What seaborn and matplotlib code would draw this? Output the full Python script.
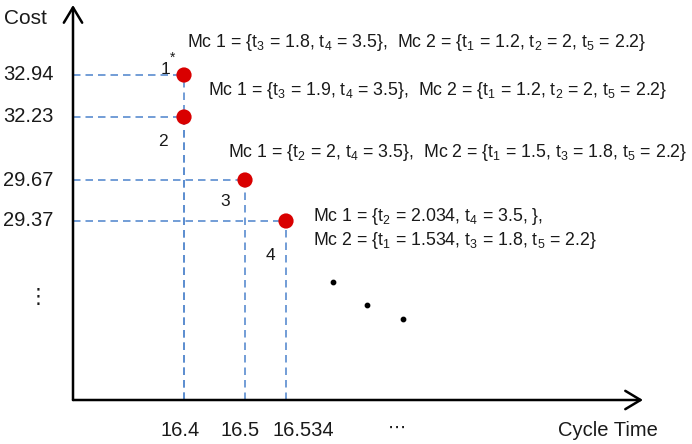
import numpy as np
import pandas as pd
import matplotlib
matplotlib.use("Agg")
import matplotlib.pyplot as plt
import seaborn as sns

# ---------------- data ----------------
cycle_time = [16.4, 16.4, 16.5, 16.534]
cost = [32.94, 32.23, 29.67, 29.37]
solution_labels = ["1", "2", "3", "4"]
x_tick_values = [16.4, 16.5, 16.534]
x_tick_labels = ["16.4", "16.5", "16.534"]
y_tick_values = [32.94, 32.23, 29.67, 29.37]
y_tick_labels = ["32.94", "32.23", "29.67", "29.37"]
assignments = [
    ["Mc 1 = {t$_{3}$ = 1.8, t$_{4}$ = 3.5},  Mc 2 = {t$_{1}$ = 1.2, t$_{2}$ = 2, t$_{5}$ = 2.2}"],
    ["Mc 1 = {t$_{3}$ = 1.9, t$_{4}$ = 3.5},  Mc 2 = {t$_{1}$ = 1.2, t$_{2}$ = 2, t$_{5}$ = 2.2}"],
    ["Mc 1 = {t$_{2}$ = 2, t$_{4}$ = 3.5},  Mc 2 = {t$_{1}$ = 1.5, t$_{3}$ = 1.8, t$_{5}$ = 2.2}"],
    ["Mc 1 = {t$_{2}$ = 2.034, t$_{4}$ = 3.5, },",
     "Mc 2 = {t$_{1}$ = 1.534, t$_{3}$ = 1.8, t$_{5}$ = 2.2}"],
]

df = pd.DataFrame({"cycle_time": cycle_time, "cost": cost, "label": solution_labels})

# ---------------- style ----------------
sns.set_style("white")
plt.rcParams["font.family"] = ["Liberation Sans", "DejaVu Sans"]
plt.rcParams["mathtext.fontset"] = "custom"
plt.rcParams["mathtext.rm"] = "Liberation Sans"
plt.rcParams["mathtext.it"] = "Liberation Sans:italic"
plt.rcParams["mathtext.bf"] = "Liberation Sans:bold"

TXT = "#1a1a1a"
DASH = "#5a8ccf"
RED = "#d90000"

W, H = 692, 444
fig = plt.figure(figsize=(W / 100, H / 100), dpi=100)
ax = fig.add_axes([73 / W, 44 / H, (643 - 73) / W, (439 - 44) / H])

# schematic (non-linear) axes: piecewise-linear scale through the key values
x_knot_vals = [16.0, 16.4, 16.5, 16.534, 17.0]
x_knot_pos = [73, 184, 245, 286, 643]
y_knot_vals = [20.0, 29.37, 29.67, 32.23, 32.94, 36.0]
y_knot_pos = [44, 223, 264, 327, 369, 439]

ax.set_xscale("function", functions=(lambda v: np.interp(v, x_knot_vals, x_knot_pos),
                                     lambda p: np.interp(p, x_knot_pos, x_knot_vals)))
ax.set_yscale("function", functions=(lambda v: np.interp(v, y_knot_vals, y_knot_pos),
                                     lambda p: np.interp(p, y_knot_pos, y_knot_vals)))
ax.set_xlim(x_knot_vals[0], x_knot_vals[-1])
ax.set_ylim(y_knot_vals[0], y_knot_vals[-1])

# dashed guide lines
x0, y0 = x_knot_vals[0], y_knot_vals[0]
for xv, yv in zip(cycle_time, cost):
    ax.plot([x0, xv], [yv, yv], ls=(0, (4.5, 3)), color=DASH, lw=1.2, zorder=2)
    ax.plot([xv, xv], [y0, yv], ls=(0, (4.5, 3)), color=DASH, lw=1.2, zorder=2)

sns.scatterplot(data=df, x="cycle_time", y="cost", color=RED, s=120,
                edgecolor="none", zorder=5, ax=ax, legend=False, clip_on=False)

# axes with arrows
for spine in ax.spines.values():
    spine.set_visible(False)
ax.set_xticks([])
ax.set_yticks([])
ax.set_xlabel("")
ax.set_ylabel("")
arrow = dict(arrowstyle="->,head_length=0.5,head_width=0.3", lw=1.8, color="black",
             mutation_scale=22, shrinkA=0, shrinkB=0)
ax.annotate("", xy=(0, 1), xytext=(0, 0), xycoords="axes fraction", arrowprops=arrow)
ax.annotate("", xy=(1, 0), xytext=(0, 0), xycoords="axes fraction", arrowprops=arrow)

# axis titles
fig.text(4 / W, 1 - 18 / H, "Cost", fontsize=15, color=TXT, ha="left", va="center")
fig.text(608 / W, 1 - 430 / H, "Cycle Time", fontsize=14.5, color=TXT, ha="center", va="center")

# value labels
x_offsets = [-4, -5, 17]
for xv, lab, dx in zip(x_tick_values, x_tick_labels, x_offsets):
    ax.annotate(lab, xy=(xv, 0), xycoords=("data", "axes fraction"),
                xytext=(dx, -30), textcoords="offset pixels",
                ha="center", va="center", fontsize=14.5, color=TXT)
for yv, lab in zip(y_tick_values, y_tick_labels):
    ax.annotate(lab, xy=(3 / W, yv), xycoords=("figure fraction", "data"),
                ha="left", va="center", fontsize=14.5, color=TXT)
ax.annotate("\u22ef", xy=(397 / W, 1 - 428 / H), xycoords="figure fraction",
            ha="center", va="center", fontsize=13, color=TXT,
            family=["DejaVu Sans"])
ax.annotate("\u22ee", xy=(38 / W, 1 - 297 / H), xycoords="figure fraction",
            ha="center", va="center", fontsize=15, color=TXT,
            family=["DejaVu Sans"])

# continuation dots
ax.scatter([(333 - 73) / 570, (367 - 73) / 570, (403 - 73) / 570],
           [(444 - 282 - 44) / 395, (444 - 305 - 44) / 395, (444 - 319 - 44) / 395],
           transform=ax.transAxes, s=10, color="black", zorder=4)

# point numbers
num_offsets = [(-19, 6), (-21, -24), (-20, -22), (-16, -34)]
for xv, yv, lab, (dx, dy) in zip(cycle_time, cost, solution_labels, num_offsets):
    ax.annotate(lab, xy=(xv, yv), xytext=(dx, dy), textcoords="offset pixels",
                ha="center", va="center", fontsize=12.5, color=TXT)
ax.annotate("*", xy=(cycle_time[0], cost[0]), xytext=(-11, 17), textcoords="offset pixels",
            ha="center", va="center", fontsize=10, color=TXT)

# assignment annotations
text_offsets = [[(3, 28)], [(24, 22)], [(-17, 23)], [(27, 0), (27, -24)]]
for xv, yv, lines, offs in zip(cycle_time, cost, assignments, text_offsets):
    for line, (dx, dy) in zip(lines, offs):
        ax.annotate(line, xy=(xv, yv), xytext=(dx, dy), textcoords="offset pixels",
                    ha="left", va="baseline", fontsize=12.8, color=TXT,
                    annotation_clip=False)

fig.savefig("out.png", dpi=100)
